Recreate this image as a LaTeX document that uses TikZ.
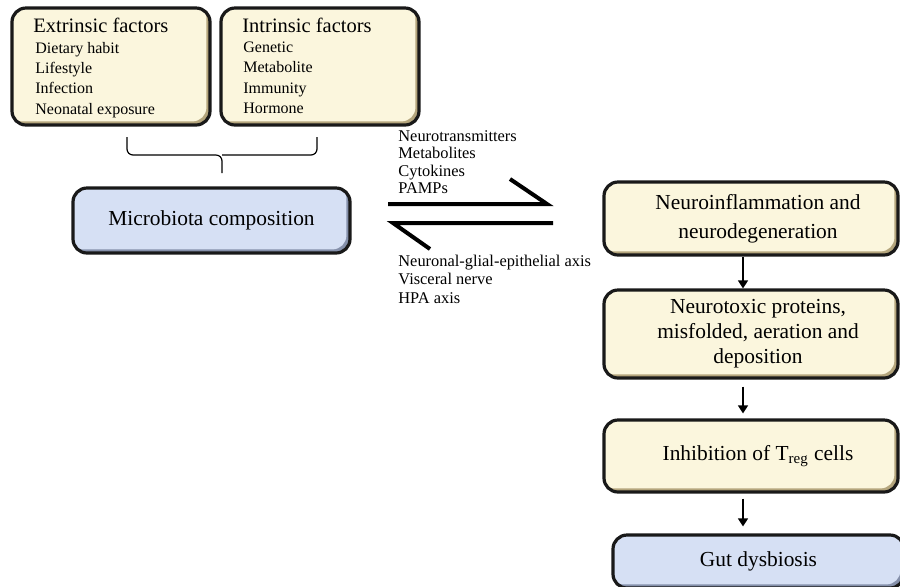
\documentclass[tikz,border=0pt]{standalone}
\usepackage{fontspec}
\setmainfont{Liberation Serif}
\usetikzlibrary{arrows.meta}

\definecolor{cream}{HTML}{FBF6DD}
\definecolor{creamrim}{HTML}{B4A57C}
\definecolor{paleblue}{HTML}{D6E0F4}
\definecolor{bluerim}{HTML}{8590AA}

\tikzset{
  box/.style={draw=black!90, line width=1.6pt, rounded corners=7pt, inner sep=0pt, align=center},
  facebox/.style 2 args={box, fill=#1, path picture={
      \fill[#2, rounded corners=7pt]
        ([shift={(-1.8pt,1.8pt)}]path picture bounding box.south west) rectangle
        ([shift={(-1.8pt,1.8pt)}]path picture bounding box.north east);}},
  yellowbox/.style={facebox={creamrim}{cream}},
  bluebox/.style={facebox={bluerim}{paleblue}},
  boxtext/.style={font=\fontsize{10.7}{12.5}\selectfont},
  headtext/.style={inner sep=0pt, anchor=west, font=\fontsize{10.25}{12}\selectfont},
  listtext/.style={inner sep=0pt, anchor=north west, align=left},
  bracket/.style={line width=0.6pt, rounded corners=3pt},
  harpoon/.style={line width=2pt, line cap=butt},
  flow/.style={line width=0.7pt, -{Triangle[width=5pt,length=4pt]}}
}

\begin{document}
\begin{tikzpicture}[x=0.5pt,y=-0.5pt]
    \clip (0,0) rectangle (900,586);
    \fill[white] (0,0) rectangle (900,586);

    % factor boxes
    \node (ext) at (111,66.5) [yellowbox, minimum width=99pt, minimum height=58.5pt] {};
    \node (exthead) at (33,25) [headtext] {Extrinsic factors};
    \node (extlist) at (35,41.5) [listtext, font=\fontsize{8}{10.2}\selectfont]
        {Dietary habit\\Lifestyle\\Infection\\Neonatal exposure};

    \node (int) at (320,66.5) [yellowbox, minimum width=99pt, minimum height=58.5pt] {};
    \node (inthead) at (242,25) [headtext] {Intrinsic factors};
    \node (intlist) at (243,41.5) [listtext, font=\fontsize{8}{10.2}\selectfont]
        {Genetic\\Metabolite\\Immunity\\Hormone};

    % bracket under the factors
    \coordinate (braceL) at (127,137);
    \coordinate (braceR) at (317,137);
    \coordinate (braceM) at (222,155);
    \coordinate (braceTip) at (222,173);
    \draw[bracket] (braceL) |- (braceM) -- (braceTip);
    \draw[bracket] (braceR) |- (braceM);

    % microbiota
    \node (micro) at (211.5,220.5) [bluebox, boxtext, minimum width=138.5pt, minimum height=32.5pt]
        {Microbiota composition};

    % exchange arrows
    \coordinate (fwdA) at (388,204);
    \coordinate (fwdB) at (547,204);
    \coordinate (fwdBarb) at (510,179);
    \draw[harpoon] (fwdA) -- (fwdB) -- (fwdBarb);

    \coordinate (bwdA) at (553,223);
    \coordinate (bwdB) at (393,223);
    \coordinate (bwdBarb) at (430,249);
    \draw[harpoon] (bwdA) -- (bwdB) -- (bwdBarb);

    \node (fwdlist) at (398,130) [listtext, font=\fontsize{8.2}{8.7}\selectfont]
        {Neurotransmitters\\Metabolites\\Cytokines\\PAMPs};
    \node (bwdlist) at (398,254.5) [listtext, font=\fontsize{8.2}{9.25}\selectfont]
        {Neuronal-glial-epithelial axis\\Visceral nerve\\HPA axis};

    % right column
    \node (neuroinf) at (751,218.5) [yellowbox, font=\fontsize{10.7}{14.5}\selectfont,
        minimum width=147pt, minimum height=36.5pt]
        {\hspace*{7pt}Neuroinflammation and\\\hspace*{7pt}neurodegeneration};
    \node (neurotox) at (751,334) [yellowbox, boxtext, minimum width=147pt, minimum height=44pt]
        {\hspace*{7pt}Neurotoxic proteins,\\\hspace*{7pt}misfolded, aeration and\\\hspace*{7pt}deposition};
    \node (inhib) at (751,456) [yellowbox, boxtext, minimum width=147pt, minimum height=36pt]
        {\hspace*{7pt}Inhibition of T\textsubscript{reg} cells};
    \node (gut) at (758.5,561.5) [bluebox, boxtext, minimum width=145.5pt, minimum height=26.5pt]
        {Gut dysbiosis};

    \draw[flow] ([xshift=-4pt]neuroinf.south) -- ([xshift=-4pt]neurotox.north);
    \draw[flow, shorten <=3.5pt, shorten >=2.5pt] ([xshift=-4pt]neurotox.south) -- ([xshift=-4pt]inhib.north);
    \draw[flow, shorten <=2.5pt, shorten >=3.5pt] ([xshift=-4pt]inhib.south) -- ([xshift=-4pt]inhib.south |- gut.north);
\end{tikzpicture}
\end{document}
